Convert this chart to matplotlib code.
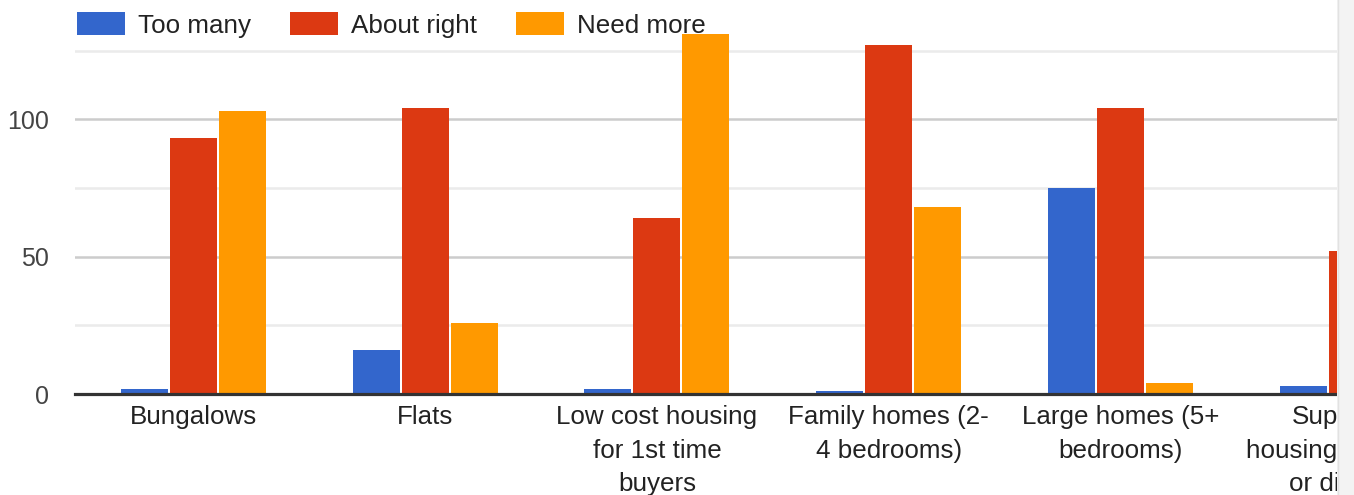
import matplotlib
matplotlib.use("Agg")
import matplotlib.pyplot as plt
import numpy as np
from matplotlib.patches import Rectangle
from matplotlib.lines import Line2D

categories = [
    "Bungalows",
    "Flats",
    "Low cost housing\nfor 1st time\nbuyers",
    "Family homes (2-\n4 bedrooms)",
    "Large homes (5+\nbedrooms)",
    "Supported\nhousing for elderly\nor disabled",
]
too_many = [2, 16, 2, 1, 75, 3]
about_right = [93, 104, 64, 127, 104, 52]
need_more = [103, 26, 131, 68, 4, 40]
series_names = ["Too many", "About right", "Need more"]
colors = ["#3366cc", "#dc3912", "#ff9900"]
major_ticks = [0, 50, 100]
minor_grid = [25, 75, 125]

plt.rcParams['font.family'] = ['Liberation Sans', 'DejaVu Sans']

W, H = 1354, 495
fig = plt.figure(figsize=(W / 100, H / 100), dpi=100)
fig.patch.set_facecolor("white")

band = 231.75
extra = 2.6 / band
left_px, base_px = 75, 394
axw_px = band * (len(categories) + extra)
ax = fig.add_axes([left_px / W, (H - base_px) / H, axw_px / W, base_px / H])
ax.set_facecolor("white")

x = np.arange(len(categories))
bw = 47 / band
off = 49 / band
for i, (vals, c) in enumerate(zip([too_many, about_right, need_more], colors)):
    ax.bar(x + (i - 1) * off, vals, width=bw, color=c, zorder=2, linewidth=0)

ax.set_xlim(-0.5 - extra, len(categories) - 0.5)
ax.set_ylim(0, 143.4)

for v in minor_grid:
    ax.axhline(v, color="#ebebeb", lw=1.8, zorder=1)
for v in major_ticks[1:]:
    ax.axhline(v, color="#cccccc", lw=1.8, zorder=1)
ax.axhline(0, color="#333333", lw=2.3, zorder=3, clip_on=False)

ax.set_yticks(major_ticks)
ax.set_yticklabels([str(v) for v in major_ticks])
ax.set_xticks(x)
ax.set_xticklabels(categories, linespacing=1.5)
ax.tick_params(axis="y", length=0, pad=18.5, labelsize=18, labelcolor="#444444")
ax.tick_params(axis="x", length=0, pad=8, labelsize=18.7, labelcolor="#222222")
for s in ax.spines.values():
    s.set_visible(False)

# legend
handles = [Rectangle((0, 0), 1, 1, facecolor=c, edgecolor="none") for c in colors]
leg = fig.legend(handles, series_names, loc="upper left",
                 bbox_to_anchor=(67 / W, 1 - 2 / H), ncol=3, frameon=False,
                 fontsize=18.7, handlelength=1.85, handleheight=0.95,
                 handletextpad=0.5, columnspacing=1.5, borderaxespad=0,
                 labelcolor="#222222")

# cropped right edge strip
fig.add_artist(Rectangle((1337 / W, 0), (W - 1337) / W, 1, transform=fig.transFigure,
                         facecolor="#f3f3f3", edgecolor="none", zorder=20))
fig.add_artist(Line2D([1337.5 / W, 1337.5 / W], [0, 1], transform=fig.transFigure,
                      color="#e2e2e2", lw=1, zorder=21))

fig.savefig("out.png", dpi=100, facecolor="white")
